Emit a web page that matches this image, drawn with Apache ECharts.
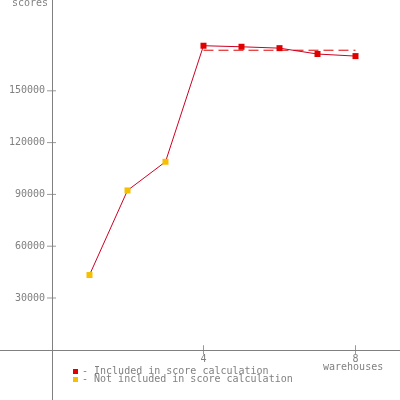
<!DOCTYPE html>
<html><head><meta charset="utf-8">
<script src="https://cdn.jsdelivr.net/npm/echarts@6/dist/echarts.min.js"></script>
<style>html,body{margin:0;padding:0;background:#fff}#c{width:400px;height:400px}</style>
</head><body><div id="c"></div>
<script>
const warehouses = [1, 2, 3, 4, 5, 6, 7, 8];
const scores = [43300, 92300, 108900, 176100, 175500, 174700, 171300, 170100];
const included = [false, false, false, true, true, true, true, true];
const scoreLevel = 173500;
const scoreRange = [4, 8];
const yTicks = [30000, 60000, 90000, 120000, 150000];
const xTicks = [4, 8];
const legendTexts = ['- Included in score calculation', '- Not included in score calculation'];
const RED = '#e00000', YEL = '#f5c000', LINE = '#cc0022', AX = '#808080';
const FONT = 'DejaVu Sans Mono';

const chart = echarts.init(document.getElementById('c'), null, {renderer: 'canvas'});
const xMin = -1.355, xMax = 9.171, yMin = -29073, yMax = 202587;
const X0 = 52, Y0 = 350; // pixel position of the axis lines
chart.setOption({
  animation: false,
  grid: {left: 0, right: 0, top: 0, bottom: 0, containLabel: false, outerBoundsMode: 'none'},
  xAxis: {type: 'value', min: xMin, max: xMax, position: 'bottom', offset: -(400 - Y0), splitLine: {show: false},
    axisLine: {show: true, onZero: false, lineStyle: {color: AX, width: 1}},
    axisTick: {show: false},
    axisLabel: {show: true, customValues: xTicks, formatter: v => String(v), color: AX, fontFamily: FONT, fontSize: 10, margin: 4}},
  yAxis: {type: 'value', min: yMin, max: yMax, position: 'left', offset: -X0, splitLine: {show: false},
    axisLine: {show: true, onZero: false, lineStyle: {color: AX, width: 1}},
    axisTick: {show: false},
    axisLabel: {show: true, customValues: yTicks, formatter: v => String(v), color: AX, fontFamily: FONT, fontSize: 10, margin: 7}},
  series: [
    {type: 'scatter', silent: true, symbol: 'rect', symbolSize: [9, 1], itemStyle: {color: AX},
     data: yTicks.map(v => [0, v]), z: 1},
    {type: 'scatter', silent: true, symbol: 'rect', symbolSize: [1, 9], itemStyle: {color: AX},
     data: xTicks.map(v => [v, 0]), z: 1},
    {type: 'line',
     data: warehouses.map((w, i) => ({value: [w, scores[i]], itemStyle: {color: included[i] ? RED : YEL}})),
     symbol: 'rect', symbolSize: 6, showSymbol: true,
     lineStyle: {color: LINE, width: 1}, z: 3},
    {type: 'line',
     data: [[scoreRange[0], scoreLevel], [scoreRange[1], scoreLevel]],
     symbol: 'none', lineStyle: {color: RED, width: 1, type: [10, 5]}, z: 2}
  ],
  graphic: [
    {type: 'text', left: 12, top: -2, style: {text: 'scores', fill: AX, font: '10px "' + FONT + '"'}},
    {type: 'text', left: 323, top: 362, style: {text: 'warehouses', fill: AX, font: '10px "' + FONT + '"'}},
    {type: 'rect', shape: {x: 73, y: 369, width: 5, height: 5}, style: {fill: RED}},
    {type: 'rect', shape: {x: 73, y: 377, width: 5, height: 5}, style: {fill: YEL}},
    {type: 'text', left: 82, top: 366, style: {text: legendTexts[0], fill: AX, font: '10px "' + FONT + '"'}},
    {type: 'text', left: 82, top: 374, style: {text: legendTexts[1], fill: AX, font: '10px "' + FONT + '"'}}
  ]
});
</script></body></html>
